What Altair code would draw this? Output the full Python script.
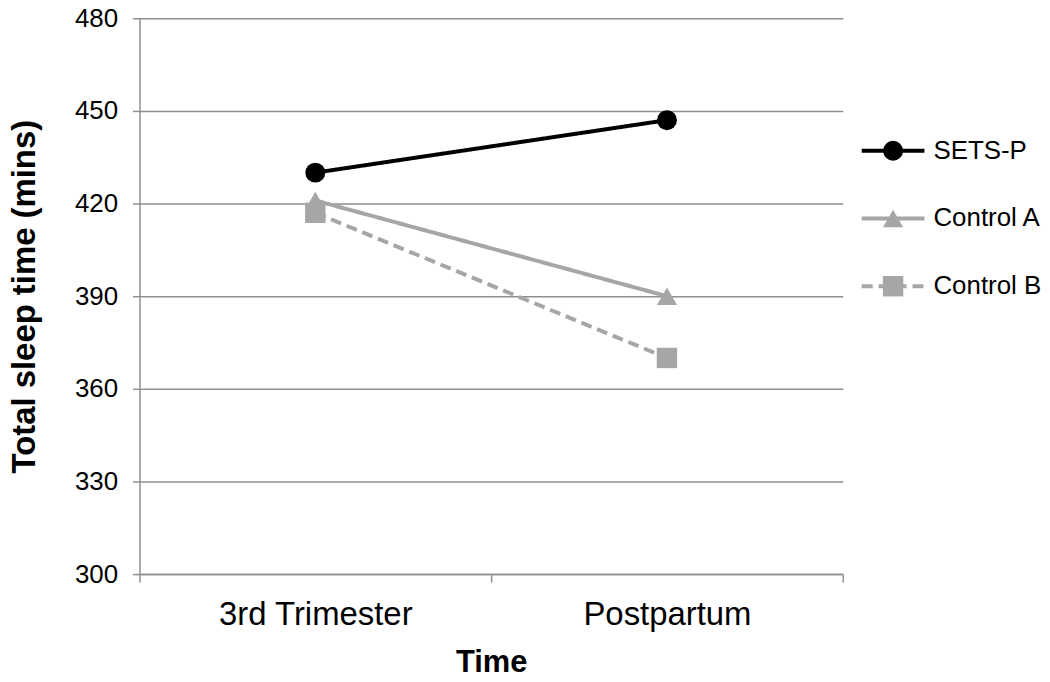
import altair as alt
import pandas as pd

# ---- data ----
times = ["3rd Trimester", "Postpartum"]
series = ["SETS-P", "Control A", "Control B"]
sets_p = [430, 447]
control_a = [421, 390]
control_b = [417, 370]
y_ticks = [300, 330, 360, 390, 420, 450, 480]

colors = ["#000000", "#a6a6a6", "#a6a6a6"]
shapes = ["circle", "triangle-up", "square"]
dashes = [[1, 0], [1, 0], [11, 6]]

rows = []
for name, vals in zip(series, [sets_p, control_a, control_b]):
    for t, v in zip(times, vals):
        rows.append({"series": name, "time": t, "value": v})
df = pd.DataFrame(rows)
# draw order for markers: Control B under Control A under SETS-P
df_pts = pd.concat([df[df.series == s] for s in reversed(series)])

FONT = "Liberation Sans"
GRID = "#8f8f8f"

color_scale = alt.Scale(domain=series, range=colors)
shape_scale = alt.Scale(domain=series, range=shapes)
dash_scale = alt.Scale(domain=series, range=dashes)
size_scale = alt.Scale(domain=series, range=[400, 420, 300])

x_enc = alt.X(
    "time:N",
    sort=times,
    bandPosition=0.5,
    scale=alt.Scale(type="band", domain=times, paddingInner=0, paddingOuter=0),
    axis=alt.Axis(
        title="Time",
        labelAngle=0,
        labelFont=FONT,
        labelFontSize=33,
        labelColor="#000000",
        labelPadding=17,
        labelLimit=400,
        tickBand="extent",
        tickSize=8,
        tickColor=GRID,
        domainColor=GRID,
        domainWidth=1.5,
        tickWidth=1.5,
        titleFont=FONT,
        titleFontSize=31,
        titleFontWeight="bold",
        titleColor="#000000",
        titlePadding=16,
        grid=False,
    ),
)
y_enc = alt.Y(
    "value:Q",
    scale=alt.Scale(domain=[300, 480], nice=False, zero=False),
    axis=alt.Axis(
        title="Total sleep time (mins)",
        values=y_ticks,
        labelFont=FONT,
        labelFontSize=26,
        labelColor="#000000",
        labelPadding=15,
        tickSize=7,
        tickColor=GRID,
        tickWidth=1.5,
        domainColor=GRID,
        domainWidth=1.5,
        grid=True,
        gridColor=GRID,
        gridWidth=1.5,
        titleFont=FONT,
        titleFontSize=33,
        titleFontWeight="bold",
        titleColor="#000000",
        titlePadding=33,
    ),
)

lines = alt.Chart(df).mark_line(strokeWidth=4).encode(
    x=x_enc,
    y=y_enc,
    color=alt.Color("series:N", scale=color_scale, legend=None),
    strokeDash=alt.StrokeDash("series:N", scale=dash_scale, legend=None),
    detail="series:N",
)
points = alt.Chart(df_pts).mark_point(filled=True, opacity=1).encode(
    x=x_enc,
    y=y_enc,
    color=alt.Color("series:N", scale=color_scale, legend=None),
    shape=alt.Shape("series:N", scale=shape_scale, legend=None),
    size=alt.Size("series:N", scale=size_scale, legend=None),
)
main = alt.layer(lines, points).properties(width=706, height=558)

# ---- manual legend (line + marker + label per series) ----
leg_rows = list(range(len(series)))
leg = pd.DataFrame({"series": series, "row": leg_rows})
leg["x0"] = 0
leg["x1"] = 63
leg["xm"] = 31.5
leg["xt"] = 72

lx = alt.Scale(domain=[0, 172], nice=False, zero=False)
ly = alt.Scale(domain=[-1.956, 6.25], nice=False, zero=False, reverse=True)

leg_line = alt.Chart(leg).mark_rule(strokeWidth=4).encode(
    x=alt.X("x0:Q", scale=lx, axis=None),
    x2="x1:Q",
    y=alt.Y("row:Q", scale=ly, axis=None),
    color=alt.Color("series:N", scale=color_scale, legend=None),
    strokeDash=alt.StrokeDash("series:N", scale=dash_scale, legend=None),
)
leg_pt = alt.Chart(leg).mark_point(filled=True, opacity=1).encode(
    x=alt.X("xm:Q", scale=lx, axis=None),
    y=alt.Y("row:Q", scale=ly, axis=None),
    color=alt.Color("series:N", scale=color_scale, legend=None),
    shape=alt.Shape("series:N", scale=shape_scale, legend=None),
    size=alt.Size("series:N", scale=size_scale, legend=None),
)
leg_txt = alt.Chart(leg).mark_text(
    align="left", baseline="middle", font=FONT, fontSize=26, color="#000000"
).encode(
    x=alt.X("xt:Q", scale=lx, axis=None),
    y=alt.Y("row:Q", scale=ly, axis=None),
    text="series:N",
)
legend = alt.layer(leg_line, leg_pt, leg_txt).properties(width=172, height=558)

chart = (
    alt.hconcat(main, legend, spacing=16)
    .resolve_scale(x="independent", y="independent")
    .configure_view(stroke=None)
    .properties(
        padding={"left": 0, "top": -4, "right": 0, "bottom": 0},
        background="#ffffff",
    )
)

chart.save("out.html", embed_options={"renderer": "svg", "actions": False})
